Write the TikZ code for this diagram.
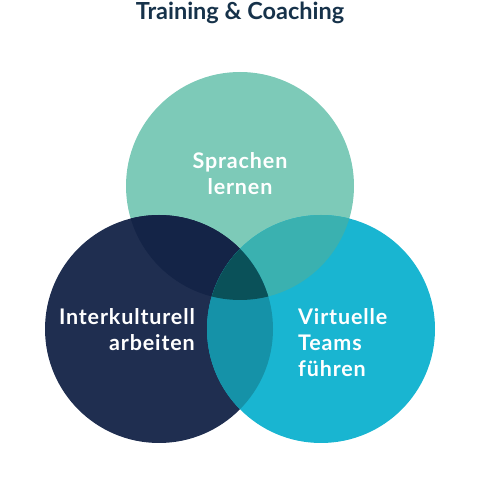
\documentclass[tikz,border=0pt]{standalone}
\usepackage{fontspec}
\setmainfont{Lato}
\newfontfamily\labelfont[LetterSpace=4]{Lato Bold}
\usetikzlibrary{positioning}
\definecolor{vnlang}{HTML}{7DCAB8}
\definecolor{vnculture}{HTML}{1F2E50}
\definecolor{vnteams}{HTML}{19B5D1}
\definecolor{vnlangculture}{HTML}{142447}
\definecolor{vnlangteams}{HTML}{3AB1B0}
\definecolor{vncultureteams}{HTML}{1592A8}
\definecolor{vncore}{HTML}{0A5159}
\definecolor{vnink}{HTML}{16324A}
\begin{document}
\begin{tikzpicture}[
  x=1pt, y=1pt,
  ring/.style={circle, minimum size=228pt, inner sep=0pt, draw=none},
  label/.style={font=\labelfont\fontsize{21.5}{26}\selectfont, text=white, inner sep=0pt},
  heading/.style={font=\bfseries\fontsize{23.5}{26}\selectfont, text=vnink, inner sep=0pt}
]
\useasboundingbox (0,0) rectangle (480,485);
\node[ring, fill=vnlang] (lang) at (240,299) {};
\node[ring, fill=vnculture] (culture) at (159,156) {};
\node[ring, fill=vnteams] (teams) at (321,156) {};
% overlaps
\begin{scope}
  \clip (lang.center) circle (114);
  \fill[vnlangculture] (culture.center) circle (114);
  \fill[vnlangteams] (teams.center) circle (114);
\end{scope}
\begin{scope}
  \clip (culture.center) circle (114);
  \fill[vncultureteams] (teams.center) circle (114);
  \clip (lang.center) circle (114);
  \fill[vncore] (teams.center) circle (114);
\end{scope}
\node[heading] (title) at (240,472) {Training \& Coaching};
\node[label, align=center] (langtext) at (240,311) {Sprachen\\lernen};
\node[label, align=right, anchor=east] (culturetext) at (195,155) {Interkulturell\\arbeiten};
\node[label, align=left, anchor=west] (teamstext) at (298,142) {Virtuelle\\Teams\\führen};
\end{tikzpicture}
\end{document}
